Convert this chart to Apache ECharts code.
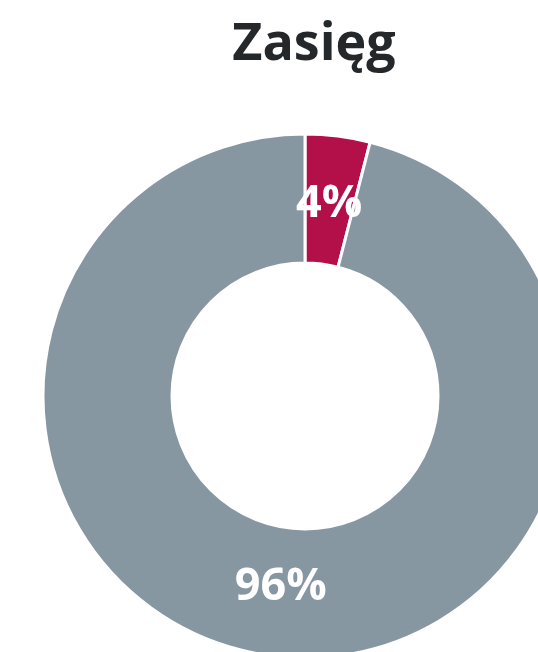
<!DOCTYPE html>
<html>
<head>
<meta charset="utf-8">
<script src="https://cdn.jsdelivr.net/npm/echarts@6/dist/echarts.min.js"></script>
<style>
  html, body { margin: 0; padding: 0; background: #ffffff; }
  #chart { width: 538px; height: 652px; }
</style>
</head>
<body>
<div id="chart"></div>
<script>
// Reach share: small highlighted segment vs. the rest
const titleText = 'Zasięg';
const categories = ['Zasięg', 'Pozostali'];
const values = [4, 96];
const colors = ['#B3104A', '#8797A1'];

const chart = echarts.init(document.getElementById('chart'), null, { renderer: 'canvas' });

const ringData = categories.map((name, i) => ({
  name: name,
  value: values[i],
  itemStyle: { color: colors[i] }
}));

// same slices, no fill: only carries the percentage labels
const labelData = categories.map((name, i) => ({
  name: name,
  value: values[i],
  itemStyle: { color: 'rgba(0,0,0,0)', borderWidth: 0 }
}));

chart.setOption({
  animation: false,
  title: {
    text: titleText,
    left: 309,
    top: 14,
    textAlign: 'center',
    textStyle: {
      fontFamily: 'Open Sans',
      fontWeight: 'bold',
      fontSize: 52,
      color: '#25282B'
    }
  },
  series: [{
    type: 'pie',
    center: [305, 396],
    radius: [133, 262],
    startAngle: 90,
    clockwise: true,
    silent: true,
    data: ringData,
    itemStyle: {
      borderColor: '#ffffff',
      borderWidth: 3
    },
    label: { show: false },
    labelLine: { show: false }
  }, {
    type: 'pie',
    center: [305, 396],
    radius: [133, 247],
    startAngle: 90,
    clockwise: true,
    silent: true,
    data: labelData,
    label: {
      show: true,
      position: 'inside',
      formatter: p => p.value + '%',
      fontFamily: 'Open Sans',
      fontWeight: 'bold',
      fontSize: 45,
      color: '#ffffff'
    },
    labelLine: { show: false }
  }]
});
</script>
</body>
</html>
